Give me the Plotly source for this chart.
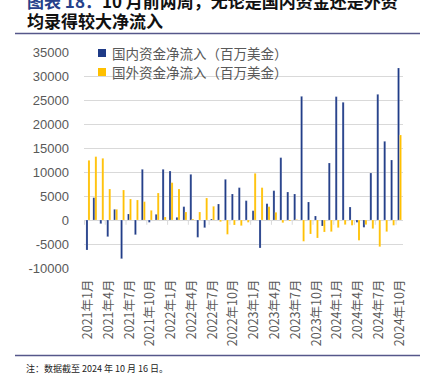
import plotly.graph_objects as go

months = [
    "2021年1月", "2021年2月", "2021年3月", "2021年4月", "2021年5月", "2021年6月",
    "2021年7月", "2021年8月", "2021年9月", "2021年10月", "2021年11月", "2021年12月",
    "2022年1月", "2022年2月", "2022年3月", "2022年4月", "2022年5月", "2022年6月",
    "2022年7月", "2022年8月", "2022年9月", "2022年10月", "2022年11月", "2022年12月",
    "2023年1月", "2023年2月", "2023年3月", "2023年4月", "2023年5月", "2023年6月",
    "2023年7月", "2023年8月", "2023年9月", "2023年10月", "2023年11月", "2023年12月",
    "2024年1月", "2024年2月", "2024年3月", "2024年4月", "2024年5月", "2024年6月",
    "2024年7月", "2024年8月", "2024年9月", "2024年10月",
]

domestic = [
    -6250, 4650, -760, -3470, 2220, -8060, 1250, -3060, 10560, -490, 1180, 10560,
    10200, 555, 2780, 9510, -3610, -1600, 210, 3330, 8470, 5420, 6740, 4030,
    1940, -5830, 3400, 6110, 12990, 5830, 5420, 25760, 3750, 830, -1250, 11875,
    25700, 24520, 2710, -490, -1530, 9790, 26180, 16390, 12500, 31670,
]

foreign = [
    12430, 13200, 12850, 6460, 2220, 6250, 4375, 4170, 3820, 2010, 5625, 625,
    7780, 6460, 1670, 210, 1670, 4580, 2850, -350, -2990, -1040, -1180, -490,
    9720, 6740, 2780, 1600, -560, -200, 100, -4440, -2920, -3750, -2500, -2430,
    -1600, -970, -1110, -4240, -970, -1800, -5560, -2430, -1110, 17710,
]

tick_labels = months[::3]
y_ticks = [-10000, -5000, 0, 5000, 10000, 15000, 20000, 25000, 30000, 35000]
y_tick_text = [str(v) for v in y_ticks]

series_names = ["国内资金净流入（百万美金）", "国外资金净流入（百万美金）"]
series_colors = ["#1F3B87", "#FFC000"]

title_prefix = "图表 18："
title_line1 = "10 月前两周，无论是国内资金还是外资"
title_line2 = "均录得较大净流入"
note_text = "注：数据截至 2024 年 10 月 16 日。"

W, H = 426, 383
ML, MR, MT, MB = 84, 23, 52, 115
PW = W - ML - MR
PH = H - MT - MB


def px(x):
    return (x - ML) / PW


def py(y):
    return (H - MB - y) / PH


fig = go.Figure()
for name, vals, col in zip(series_names, [domestic, foreign], series_colors):
    fig.add_trace(go.Bar(
        x=months, y=vals, name=name,
        marker=dict(color=col, line=dict(color="rgba(255,255,255,0.5)", width=0.4)),
        showlegend=False,
    ))

shapes = []
# category-axis tick marks at the zero line
for k in range(0, len(months) + 1, 3):
    shapes.append(dict(type="line", xref="x", yref="y", x0=k - 0.5, x1=k - 0.5,
                       y0=0, y1=-1000, line=dict(color="#d9d9d9", width=1)))
# legend squares
for i, col in enumerate(series_colors):
    yc = 53 + i * 19
    shapes.append(dict(type="rect", xref="paper", yref="paper",
                       x0=px(98), x1=px(106), y0=py(yc + 4), y1=py(yc - 4),
                       line=dict(width=0), fillcolor=col))
# header / footer rules
for yy in (33.5, 355.5):
    shapes.append(dict(type="line", xref="paper", yref="paper",
                       x0=px(15), x1=px(420), y0=py(yy), y1=py(yy),
                       line=dict(color="#56578A", width=1.5)))

annotations = []
for i, name in enumerate(series_names):
    annotations.append(dict(xref="paper", yref="paper", x=px(110), y=py(53 + i * 19),
                            xanchor="left", yanchor="middle", showarrow=False,
                            text=name, font=dict(family="Noto Sans CJK SC", size=13.5, color="#595959")))
annotations.append(dict(xref="paper", yref="paper", x=px(25), y=py(0.5), xanchor="left",
                        yanchor="middle", showarrow=False,
                        text=f'<span style="color:#25408A">{title_prefix}</span>{title_line1}',
                        font=dict(family="Noto Sans CJK SC", size=17, color="#111111", weight="bold")))
annotations.append(dict(xref="paper", yref="paper", x=px(25), y=py(20.5), xanchor="left",
                        yanchor="middle", showarrow=False, text=title_line2,
                        font=dict(family="Noto Sans CJK SC", size=17, color="#111111", weight="bold")))
annotations.append(dict(xref="paper", yref="paper", x=px(24), y=py(368), xanchor="left",
                        yanchor="middle", showarrow=False, text=note_text,
                        font=dict(family="Noto Sans CJK SC", size=9, color="#222222")))

fig.update_layout(
    width=W, height=H,
    margin=dict(l=ML, r=MR, t=MT, b=MB, pad=0),
    paper_bgcolor="white", plot_bgcolor="white",
    barmode="group", bargap=0.42, bargroupgap=0,
    shapes=shapes, annotations=annotations,
    xaxis=dict(type="category", tickmode="array", tickvals=tick_labels, ticktext=tick_labels,
               tickangle=-90, showgrid=False, showline=False, ticks="",
               ticklabelstandoff=8,
               tickfont=dict(family="Noto Sans CJK SC", size=12.5, color="#595959")),
    yaxis=dict(range=[-10000, 35000], tickmode="array", tickvals=y_ticks, ticktext=y_tick_text,
               showgrid=True, gridcolor="#d9d9d9",
               gridwidth=1, zeroline=True, zerolinecolor="#d9d9d9", zerolinewidth=1,
               showline=False, ticks="", ticklabelstandoff=14,
               tickfont=dict(family="Liberation Sans", size=13, color="#595959")),
)

fig.write_html(
    "out.html",
    config={"displayModeBar": False},
    post_script="document.body.style.margin='0px';document.body.style.overflow='hidden';",
)
